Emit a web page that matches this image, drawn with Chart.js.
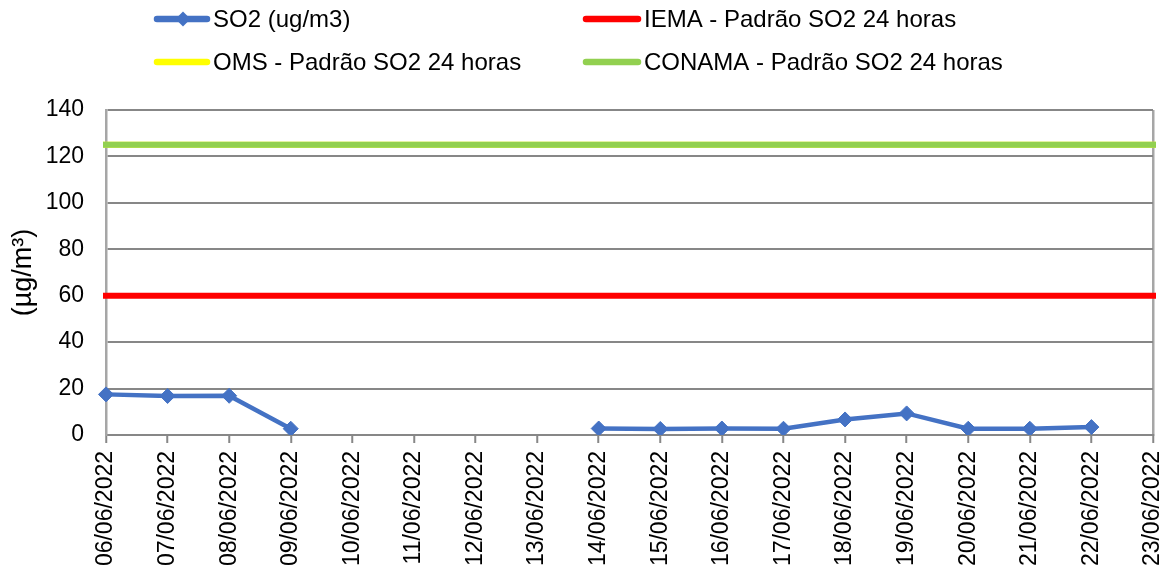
<!DOCTYPE html>
<html>
<head>
<meta charset="utf-8">
<script src="https://cdn.jsdelivr.net/npm/chart.js@4/dist/chart.umd.min.js"></script>
<style>
  html, body { margin: 0; padding: 0; background: #ffffff; }
  #wrap { width: 1172px; height: 571px; }
</style>
</head>
<body>
<div id="wrap"><canvas id="chart" width="1172" height="571"></canvas></div>
<script>
// Daily dates of the monitoring period
const dates = [
  '06/06/2022', '07/06/2022', '08/06/2022', '09/06/2022', '10/06/2022', '11/06/2022',
  '12/06/2022', '13/06/2022', '14/06/2022', '15/06/2022', '16/06/2022', '17/06/2022',
  '18/06/2022', '19/06/2022', '20/06/2022', '21/06/2022', '22/06/2022', '23/06/2022'
];

// Measured SO2 daily averages (µg/m³); null = no measurement
const so2 = [17.5, 16.8, 16.9, 2.7, null, null, null, null, 2.8, 2.6, 2.8, 2.7, 6.7, 9.3, 2.7, 2.7, 3.4, null];

// 24-hour reference standards (µg/m³)
const iemaStandard   = [60, 60, 60, 60, 60, 60, 60, 60, 60, 60, 60, 60, 60, 60, 60, 60, 60, 60];
const omsStandard    = [125, 125, 125, 125, 125, 125, 125, 125, 125, 125, 125, 125, 125, 125, 125, 125, 125, 125];
const conamaStandard = [125, 125, 125, 125, 125, 125, 125, 125, 125, 125, 125, 125, 125, 125, 125, 125, 125, 125];

// Value axis range
const yMin = 0;
const yMax = 140;
const yStep = 20;

const FONT = "'Liberation Sans', Arial, sans-serif";
const GRID = '#878787';

// Two-column legend drawn above the plot
const legendSlots = [
  { x: 154, y: 19, w: 56 },
  { x: 583, y: 19, w: 58 },
  { x: 154, y: 62, w: 56 },
  { x: 583, y: 62, w: 58 }
];

const gridLegend = {
  id: 'gridLegend',
  afterDraw(chart) {
    const ctx = chart.ctx;
    chart.data.datasets.forEach((ds, i) => {
      const s = legendSlots[i];
      ctx.save();
      ctx.strokeStyle = ds.borderColor;
      ctx.lineWidth = 6.5;
      ctx.lineCap = 'round';
      ctx.beginPath();
      ctx.moveTo(s.x + 3, s.y);
      ctx.lineTo(s.x + s.w - 3, s.y);
      ctx.stroke();
      if (ds.pointRadius > 0) {
        const cx = s.x + s.w / 2 + 1;
        const r = 7.5;
        ctx.fillStyle = ds.pointBackgroundColor;
        ctx.beginPath();
        ctx.moveTo(cx, s.y - r);
        ctx.lineTo(cx + r, s.y);
        ctx.lineTo(cx, s.y + r);
        ctx.lineTo(cx - r, s.y);
        ctx.closePath();
        ctx.fill();
      }
      ctx.fillStyle = '#000000';
      ctx.font = '24px ' + FONT;
      ctx.textBaseline = 'middle';
      ctx.textAlign = 'left';
      ctx.fillText(ds.label, s.x + s.w + 3, s.y + 1);
      ctx.restore();
    });
  }
};

new Chart(document.getElementById('chart'), {
  type: 'line',
  data: {
    labels: dates,
    datasets: [
      {
        label: 'SO2 (ug/m3)',
        data: so2,
        borderColor: '#4472C4',
        backgroundColor: '#4472C4',
        borderWidth: 4.5,
        pointStyle: 'rectRot',
        pointRadius: 7.5,
        pointBorderWidth: 1,
        pointBackgroundColor: '#4472C4',
        pointBorderColor: '#4472C4',
        spanGaps: false,
        tension: 0,
        order: 0
      },
      {
        label: 'IEMA - Padrão SO2 24 horas',
        data: iemaStandard,
        borderColor: '#FF0000',
        backgroundColor: '#FF0000',
        borderWidth: 6,
        borderCapStyle: 'square',
        pointRadius: 0,
        order: 1
      },
      {
        label: 'OMS - Padrão SO2 24 horas',
        data: omsStandard,
        borderColor: '#FFFF00',
        backgroundColor: '#FFFF00',
        borderWidth: 6,
        borderCapStyle: 'square',
        pointRadius: 0,
        order: 3
      },
      {
        label: 'CONAMA - Padrão SO2 24 horas',
        data: conamaStandard,
        borderColor: '#92D050',
        backgroundColor: '#92D050',
        borderWidth: 6,
        borderCapStyle: 'square',
        pointRadius: 0,
        order: 2
      }
    ]
  },
  options: {
    responsive: false,
    animation: false,
    devicePixelRatio: 1,
    layout: { padding: { top: 110, right: 19, left: 0, bottom: 0 } },
    plugins: {
      legend: { display: false },
      title: { display: false },
      tooltip: { enabled: false }
    },
    scales: {
      x: {
        type: 'category',
        offset: false,
        grid: {
          drawOnChartArea: true,
          color: (c) => (c.index === dates.length - 1 ? '#a6a6a6' : 'rgba(0,0,0,0)'),
          lineWidth: 2.5,
          drawTicks: true,
          tickLength: 8,
          tickColor: GRID,
          tickWidth: 2
        },
        border: { display: true, color: GRID, width: 2 },
        ticks: {
          autoSkip: false,
          maxRotation: 90,
          minRotation: 90,
          padding: 8,
          color: '#000000',
          font: { family: FONT, size: 23 }
        },
        afterFit: (scale) => {
          scale.height = 136;
          scale.paddingLeft = 0;
          scale.paddingRight = 0;
        }
      },
      y: {
        min: yMin,
        max: yMax,
        ticks: {
          stepSize: yStep,
          padding: 22,
          color: '#000000',
          font: { family: FONT, size: 23 }
        },
        grid: {
          color: GRID,
          lineWidth: 2,
          drawTicks: false
        },
        border: { display: true, color: '#a6a6a6', width: 2.5 },
        title: {
          display: true,
          text: '(µg/m³)',
          color: '#000000',
          font: { family: FONT, size: 27 },
          padding: { top: 7, bottom: 0 }
        },
        afterFit: (scale) => { scale.width = 106; }
      }
    }
  },
  plugins: [gridLegend]
});
</script>
</body>
</html>
